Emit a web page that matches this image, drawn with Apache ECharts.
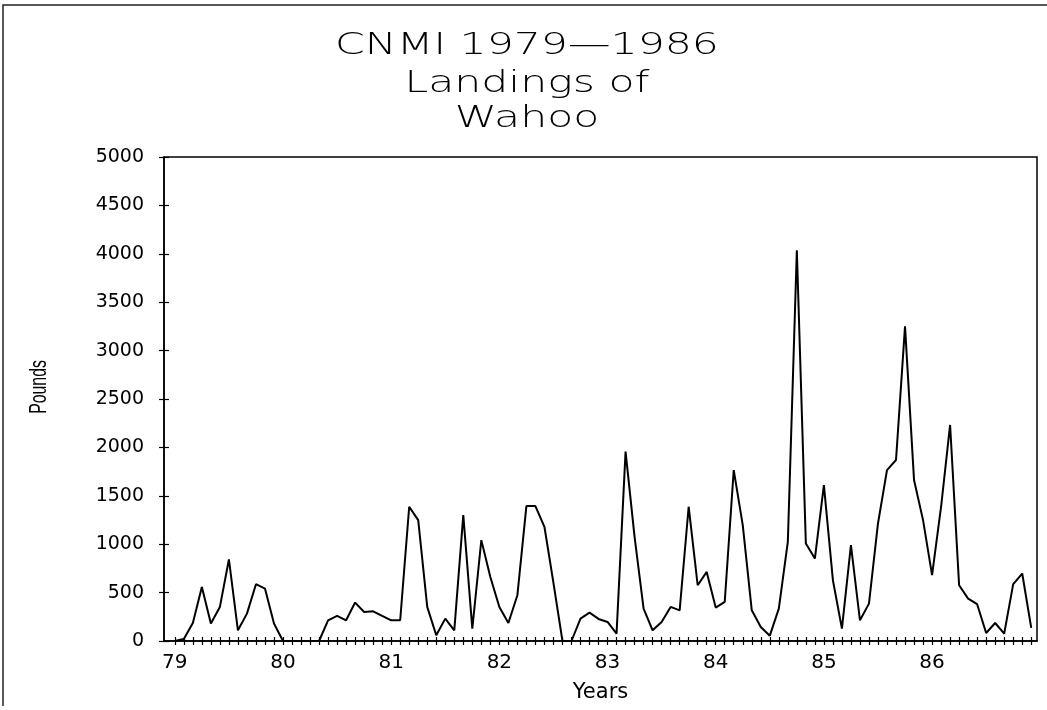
<!DOCTYPE html>
<html>
<head>
<meta charset="utf-8">
<script src="https://cdn.jsdelivr.net/npm/echarts@6/dist/echarts.min.js"></script>
<style>
  html, body { margin: 0; padding: 0; background: #fff; }
  #chart { width: 1047px; height: 710px; }
</style>
</head>
<body>
<div id="chart"></div>
<script>
// ---- Data: monthly landings of Wahoo (pounds), CNMI 1979-1986 ----
const titleLines = ['CNMI 1979—1986', 'Landings of', 'Wahoo'];
const yAxisTitle = 'Pounds';
const xAxisTitle = 'Years';
const yearTicks = [79, 80, 81, 82, 83, 84, 85, 86];

const pounds1979 = [0, 20, 186, 559, 180, 352, 842, 111, 283, 587, 542, 180];
const pounds1980 = [0, 0, 0, 0, 0, 214, 259, 214, 397, 300, 307, 260];
const pounds1981 = [214, 214, 1387, 1249, 352, 59, 231, 110, 1300, 128, 1042, 662];
const pounds1982 = [352, 186, 473, 1394, 1394, 1180, 600, 0, 0, 231, 293, 228];
const pounds1983 = [197, 76, 1956, 1076, 335, 110, 197, 352, 317, 1387, 576, 714];
const pounds1984 = [345, 404, 1766, 1197, 317, 145, 55, 335, 1025, 4037, 1007, 852];
const pounds1985 = [1611, 628, 128, 990, 214, 386, 1214, 1766, 1870, 3250, 1663, 1249];
const pounds1986 = [680, 1387, 2232, 576, 438, 380, 83, 186, 76, 587, 697, 135];

const poundsByYear = [pounds1979, pounds1980, pounds1981, pounds1982,
                      pounds1983, pounds1984, pounds1985, pounds1986];

// ---- Build series data (x = year + month/12) ----
const seriesData = [];
poundsByYear.forEach((arr, yi) => {
  arr.forEach((v, m) => {
    seriesData.push([yearTicks[yi] + m / 12, v]);
  });
});
const monthTicks = seriesData.map(d => d[0]);

const X_MIN = 78.9, X_MAX = 86.97;
const labelFont = 'DejaVu Sans';

const chart = echarts.init(document.getElementById('chart'), null, { renderer: 'canvas' });

const option = {
  animation: false,
  backgroundColor: '#ffffff',
  grid: {
    left: 164, right: 10, top: 157, bottom: 69,
    show: true, borderColor: '#000', borderWidth: 1.5,
    backgroundColor: 'transparent'
  },
  xAxis: [
    {
      type: 'value', min: X_MIN, max: X_MAX, position: 'bottom',
      axisLine: { show: true, onZero: false, lineStyle: { color: '#000', width: 1.5 } },
      axisTick: { show: true, inside: true, length: 4, customValues: monthTicks,
                  lineStyle: { color: '#000', width: 1.2 } },
      axisLabel: { show: true, customValues: yearTicks, margin: 12,
                   formatter: v => String(Math.round(v)),
                   fontFamily: labelFont, fontSize: 20, color: '#000' },
      splitLine: { show: false },
      name: xAxisTitle, nameLocation: 'middle', nameGap: 41,
      nameTextStyle: { fontFamily: labelFont, fontSize: 21, color: '#000' }
    },
    {
      type: 'value', min: X_MIN, max: X_MAX, position: 'bottom',
      axisLine: { show: false },
      axisTick: { show: true, inside: false, length: 4, customValues: monthTicks,
                  lineStyle: { color: '#000', width: 1.2 } },
      axisLabel: { show: false },
      splitLine: { show: false }
    }
  ],
  yAxis: [
    {
      type: 'value', min: 0, max: 5000, interval: 500, position: 'left',
      axisLine: { show: true, onZero: false, lineStyle: { color: '#000', width: 1.5 } },
      axisTick: { show: true, inside: false, length: 5, lineStyle: { color: '#000', width: 1.2 } },
      axisLabel: { show: true, margin: 20, formatter: v => String(v),
                   fontFamily: labelFont, fontSize: 19, color: '#000' },
      splitLine: { show: false }
    },
    {
      type: 'value', min: 0, max: 5000, interval: 500, position: 'left',
      axisLine: { show: false },
      axisTick: { show: true, inside: true, length: 5, lineStyle: { color: '#000', width: 1.2 } },
      axisLabel: { show: false },
      splitLine: { show: false }
    }
  ],
  series: [
    {
      type: 'line', xAxisIndex: 0, yAxisIndex: 0,
      data: seriesData, symbol: 'none', showSymbol: false, smooth: false,
      lineStyle: { color: '#000', width: 2 }
    }
  ],
  graphic: [
    { type: 'text', x: 527, y: 46, scaleX: 1.42,
      style: { text: titleLines[0], fontFamily: labelFont, fontWeight: 200, fontSize: 30,
               fill: '#000', align: 'center', verticalAlign: 'middle' } },
    { type: 'text', x: 527, y: 84, scaleX: 1.42,
      style: { text: titleLines[1], fontFamily: labelFont, fontWeight: 200, fontSize: 30,
               fill: '#000', align: 'center', verticalAlign: 'middle' } },
    { type: 'text', x: 527, y: 119, scaleX: 1.42,
      style: { text: titleLines[2], fontFamily: labelFont, fontWeight: 200, fontSize: 30,
               fill: '#000', align: 'center', verticalAlign: 'middle' } },
    { type: 'text', x: 39, y: 387, rotation: Math.PI / 2, scaleX: 0.66,
      style: { text: yAxisTitle, fontFamily: 'Liberation Sans', fontSize: 24,
               fill: '#000', align: 'center', verticalAlign: 'middle' } },
    { type: 'polyline', silent: true,
      shape: { points: [[3, 706], [3, 5], [1047, 5]] },
      style: { stroke: '#222', lineWidth: 1.5, fill: null } }
  ]
};

chart.setOption(option);
</script>
</body>
</html>
